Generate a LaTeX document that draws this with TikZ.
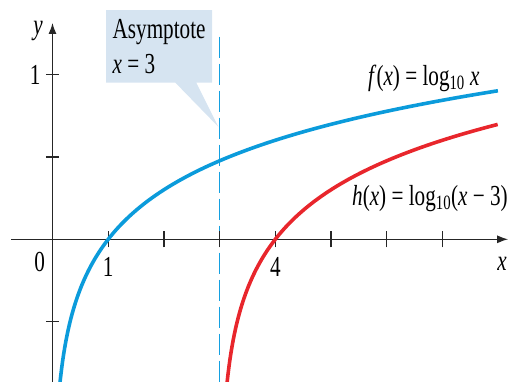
\documentclass[tikz,border=0pt]{standalone}
\usepackage{fontspec}
\setmainfont{Liberation Serif}
\usetikzlibrary{arrows.meta,shapes.callouts}
\definecolor{fblue}{HTML}{0B9BDB}
\definecolor{hred}{HTML}{E8262C}
\definecolor{boxblue}{HTML}{D6E4F1}
\definecolor{asyblue}{RGB}{20,160,225}
% schmale Schrift wie im Original
\newcommand{\schmal}[1]{\scalebox{0.73}[1]{#1}}
\tikzset{
  lbl/.style={font=\fontsize{29}{35}\selectfont, inner sep=0pt},
  axis/.style={line width=1.2pt, black!85},
  graph/.style={line width=3.6pt},
  asym/.style={draw=asyblue, line width=1.4pt, dash pattern=on 21pt off 6pt},
}
\begin{document}
\begin{tikzpicture}[x=55.7pt, y=164.5pt, >={Latex[length=11pt,width=8pt]}]
\useasboundingbox (-0.9425,-0.8614) rectangle (8.2136,1.4547);
% Hinweis-Kasten
\node[rectangle callout, fill=boxblue, lbl, inner xsep=6.5pt, inner ysep=9pt,
      align=left, anchor=north west, callout pointer width=21pt,
      callout absolute pointer={(2.977,0.684)}] (A) at (0.960,1.394)
      {\schmal{Asymptote}\\\schmal{\textit{x} = 3}};
% Asymptote
\coordinate (S) at (3,1.2316);
\coordinate (E) at (3,-0.9);
\draw[asym] (S) -- (E);
% Achsen
\draw[axis, ->] (-0.745,0) -- (8.18,0);
\draw[axis, ->] (0,-0.9) -- (0,1.315);
\foreach \i in {1,...,7} \draw[axis] (\i,0) ++(0pt,-8pt) -- ++(0pt,16pt);
\foreach \j in {-0.5,0.5,1} \draw[axis] (0,\j) ++(-6.5pt,0pt) -- ++(13pt,0pt);
% Graphen
\draw[graph, fblue] plot[variable=\t, domain=-0.9:0.9031, samples=150, smooth] ({pow(10,\t)},{\t});
\draw[graph, hred] plot[variable=\t, domain=-0.9:0.699, samples=150, smooth] ({3+pow(10,\t)},{\t});
% Beschriftungen
\node[lbl, anchor=base] (Ly) at (-0.260,1.242) {\schmal{\textit{y}}};
\node[lbl, anchor=east, xshift=-11.8pt] (L1y) at (0,1) {\schmal{1}};
\node[lbl, anchor=north east, xshift=-7.3pt, yshift=-12.4pt] (L0) at (0,0) {\schmal{0}};
\node[lbl, anchor=north, yshift=-17.5pt] (L1x) at (1,0) {\schmal{1}};
\node[lbl, anchor=north, yshift=-17.5pt] (L4) at (4,0) {\schmal{4}};
\node[lbl, anchor=base] (Lx) at (8.070,-0.1866) {\schmal{\textit{x}}};
\node[lbl, anchor=base west] (Lf) at (5.664,0.938) {\schmal{\textit{f}(\textit{x}) = log\textsubscript{10} \textit{x}}};
\node[lbl, anchor=base west] (Lh) at (5.377,0.2085) {\schmal{\textit{h}(\textit{x}) = log\textsubscript{10}(\textit{x} − 3)}};
\end{tikzpicture}
\end{document}
